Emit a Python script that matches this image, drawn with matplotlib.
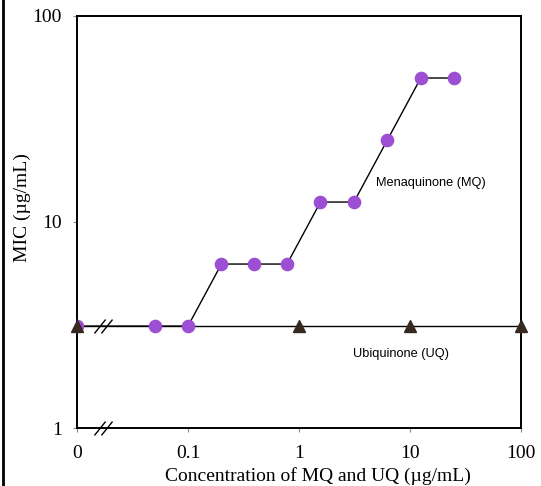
import matplotlib
matplotlib.use('Agg')
import matplotlib.pyplot as plt
from matplotlib.path import Path
from matplotlib.lines import Line2D

# concentration 0 is drawn one decade left of 0.1
zero_pos = 0.01

mq_conc = [0, 0.05, 0.1, 0.2, 0.39, 0.78, 1.56, 3.125, 6.25, 12.5, 25]
mq_mic = [3.125, 3.125, 3.125, 6.25, 6.25, 6.25, 12.5, 12.5, 25, 50, 50]
uq_conc = [0, 1, 10, 100]
uq_mic = [3.125, 3.125, 3.125, 3.125]

x_ticks = [0, 0.1, 1, 10, 100]
x_labels = ['0', '0.1', '1', '10', '100']
y_ticks = [1, 10, 100]
y_labels = ['1', '10', '100']

purple = '#9c4fd3'
dark = '#352920'

plt.rcParams['font.family'] = ['Liberation Serif', 'DejaVu Serif']

fig = plt.figure(figsize=(5.41, 4.86), dpi=100)
ax = fig.add_axes([77 / 541, 1 - 428 / 486, 444 / 541, 412 / 486])


def pos(values):
    return [v if v > 0 else zero_pos for v in values]


ax.plot(pos(uq_conc), uq_mic, color='black', linewidth=1.0, zorder=2)
ax.plot(pos(mq_conc), mq_mic, color='black', linewidth=1.0, zorder=2)
ax.plot(pos(mq_conc), mq_mic, linestyle='none', marker='o', markersize=8.8,
        markerfacecolor=purple, markeredgecolor=purple, zorder=3)
ax.plot(pos(uq_conc), uq_mic, linestyle='none', marker='^', markersize=8.5,
        markerfacecolor=dark, markeredgecolor=dark, zorder=4, clip_on=False)

ax.set_xscale('log')
ax.set_yscale('log')
ax.set_xlim(zero_pos, 100)
ax.set_ylim(1, 100)
ax.set_xticks(pos(x_ticks))
ax.set_xticklabels(x_labels)
ax.set_yticks(y_ticks)
ax.set_yticklabels(y_labels)
ax.minorticks_off()
ax.tick_params(axis='both', direction='out', length=3, width=0.8, color='#888888',
               labelsize=14)
ax.tick_params(axis='x', pad=9)
ax.tick_params(axis='y', pad=8)

for side in ['left', 'right', 'top', 'bottom']:
    ax.spines[side].set_linewidth(1.4)

ax.set_xlabel('Concentration of MQ and UQ (µg/mL)', fontsize=14)
ax.xaxis.set_label_coords(0.543, -0.094)
ax.set_ylabel('MIC (µg/mL)', fontsize=14)
ax.yaxis.set_label_coords(-0.104, 0.534)

# axis break marks "//"
brk = Path([(-1.3, -1), (0.3, 1), (-0.3, -1), (1.3, 1)],
           [Path.MOVETO, Path.LINETO, Path.MOVETO, Path.LINETO])
brk_x = 0.0172
ax.plot([brk_x], [3.125], marker=brk, markersize=13, color='black',
        markeredgewidth=1.0, linestyle='none', zorder=5)
ax.plot([brk_x], [1], marker=brk, markersize=13, color='black',
        markeredgewidth=1.0, linestyle='none', zorder=5, clip_on=False)

ax.text(4.9, 15.0, 'Menaquinone (MQ)', fontsize=9.2, family='Liberation Sans')
ax.text(3.05, 2.2, 'Ubiquinone (UQ)', fontsize=9.2, family='Liberation Sans')

fig.add_artist(Line2D([2.5 / 541, 2.5 / 541], [0, 1], color='black', linewidth=2.0))

fig.savefig('out.png', dpi=100)
